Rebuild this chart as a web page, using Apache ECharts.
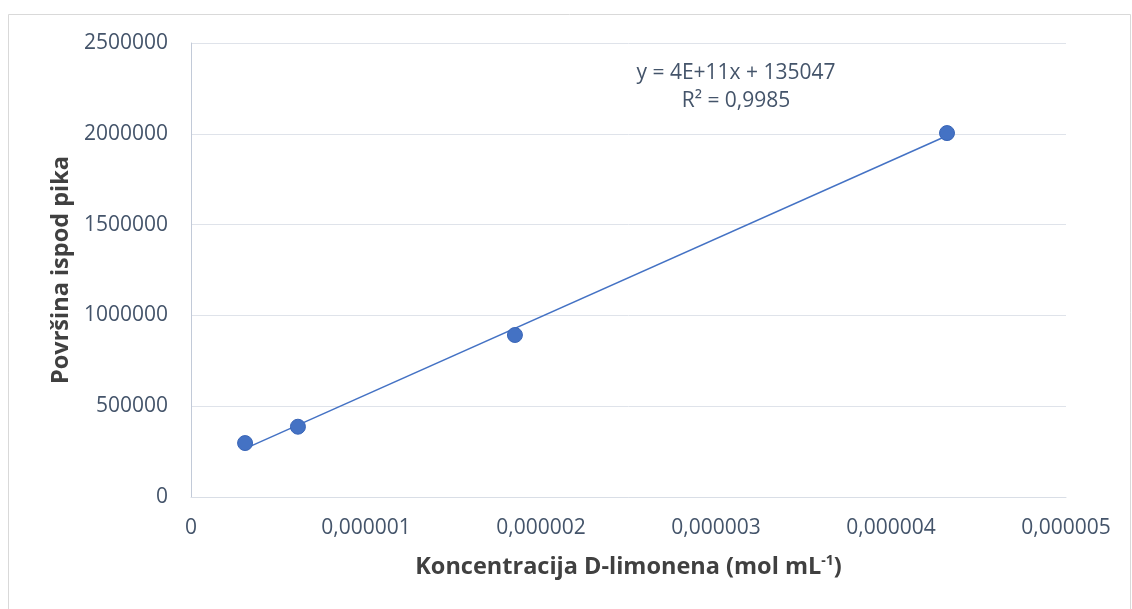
<!DOCTYPE html>
<html>
<head>
<meta charset="utf-8">
<script src="https://cdn.jsdelivr.net/npm/echarts@6/dist/echarts.min.js"></script>
<style>
html,body{margin:0;padding:0;background:#fff;}
#c{width:1132px;height:609px;}
</style>
</head>
<body>
<div id="c"></div>
<script>
const concentrations = [3.09e-7, 6.11e-7, 1.851e-6, 4.32e-6];
const peakAreas = [297000, 387000, 892000, 2004000];
const equationText = 'y = 4E+11x + 135047';
const r2Text = 'R² = 0,9985';
const xTitle = 'Koncentracija D-limonena (mol mL';
const yTitle = 'Površina ispod pika';

// linear regression for trendline
const n = concentrations.length;
const mx = concentrations.reduce((a,b)=>a+b,0)/n;
const my = peakAreas.reduce((a,b)=>a+b,0)/n;
let sxy=0, sxx=0;
for(let i=0;i<n;i++){sxy+=(concentrations[i]-mx)*(peakAreas[i]-my);sxx+=(concentrations[i]-mx)**2;}
const slope = sxy/sxx, intercept = my - slope*mx;
const xmin = Math.min(...concentrations), xmax = Math.max(...concentrations);
const trend = [[xmin, slope*xmin+intercept],[xmax, slope*xmax+intercept]];

const chart = echarts.init(document.getElementById('c'));
const fontFam = '"Open Sans", "Noto Sans", sans-serif';
chart.setOption({
  animation:false,
  backgroundColor:'#fff',
  grid:{left:191,right:66,top:43,bottom:112},
  xAxis:{
    type:'value',min:0,max:5e-6,interval:1e-6,
    axisLine:{show:true,lineStyle:{color:'#d9dee6',width:1}},
    axisTick:{show:false},
    splitLine:{show:false},
    axisLabel:{color:'#44546a',fontSize:21,fontFamily:fontFam,margin:21,
      formatter:v=> v===0?'0':v.toFixed(6).replace('.',',')},
    name:'{a|'+xTitle+'}{s|-1}{a|)}',
    nameLocation:'middle',nameGap:57,
    nameTextStyle:{rich:{
      a:{fontSize:23.5,fontWeight:'bold',color:'#404040',fontFamily:fontFam},
      s:{fontSize:14,fontWeight:'bold',color:'#404040',fontFamily:fontFam,verticalAlign:'top',padding:[0,0,12,0]}
    }}
  },
  yAxis:{
    type:'value',min:0,max:2500000,interval:500000,
    axisLine:{show:true,lineStyle:{color:'#c2cad8',width:1}},
    axisTick:{show:false},
    splitLine:{lineStyle:{color:'#dfe3ea',width:1}},
    axisLabel:{color:'#44546a',fontSize:21,fontFamily:fontFam,margin:23,
      formatter:v=>String(v)},
    name:yTitle,nameLocation:'middle',nameGap:115,
    nameTextStyle:{fontSize:23.5,fontWeight:'bold',color:'#404040',fontFamily:fontFam}
  },
  series:[
    {type:'line',data:trend,symbol:'none',lineStyle:{color:'#4472c4',width:1.5},z:2,silent:true},
    {type:'scatter',data:concentrations.map((x,i)=>[x,peakAreas[i]]),symbolSize:15,
      itemStyle:{color:'#4472c4',borderColor:'#3a66b8',borderWidth:1,opacity:1},z:3}
  ],
  graphic:[
    {type:'rect',shape:{x:8.5,y:14.5,width:1122,height:640},style:{fill:'none',stroke:'#d9d9d9',lineWidth:1},silent:true,z:-1},
    {type:'text',x:736,y:73,style:{text:equationText,fill:'#44546a',font:'21px '+fontFam,textAlign:'center',textVerticalAlign:'middle'}},
    {type:'text',x:736,y:101,style:{text:r2Text,fill:'#44546a',font:'21px '+fontFam,textAlign:'center',textVerticalAlign:'middle'}}
  ]
});
</script>
</body>
</html>
